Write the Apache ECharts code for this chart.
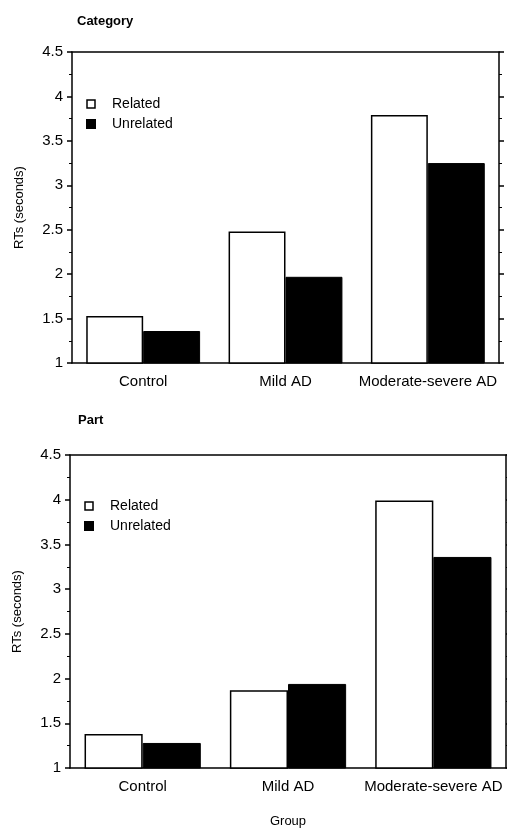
<!DOCTYPE html>
<html><head><meta charset="utf-8">
<script src="https://cdn.jsdelivr.net/npm/echarts@6/dist/echarts.min.js"></script>
<style>html,body{margin:0;padding:0;background:#fff}#c{width:507px;height:829px}</style>
</head><body><div id="c"></div>
<script>
const categories = ['Control', 'Mild AD', 'Moderate-severe AD'];
const seriesNames = ['Related', 'Unrelated'];
const relatedCategory = [1.53, 2.48, 3.79];
const unrelatedCategory = [1.36, 1.97, 3.25];
const relatedPart = [1.38, 1.87, 3.99];
const unrelatedPart = [1.28, 1.94, 3.36];
const panelTitles = ['Category', 'Part'];
const yAxisName = 'RTs (seconds)';
const xAxisName = 'Group';

const FONT = 'Liberation Sans, Arial, sans-serif';
const black = '#000';
const chart = echarts.init(document.getElementById('c'), null, {renderer: 'canvas'});

const grids = [
  {left: 72, right: 8, top: 52, height: 311},
  {left: 70, right: 1, top: 455, height: 313}
];

function xAxes(gi, withName) {
  return [
    {type: 'category', gridIndex: gi, data: categories, position: 'bottom',
     axisLine: {lineStyle: {color: black, width: 1.5}},
     axisTick: {alignWithLabel: true, length: 5, lineStyle: {color: black, width: 1.5}},
     axisLabel: {interval: 0, color: black, fontFamily: FONT, fontSize: 15, margin: 11},
     name: withName ? xAxisName : '', nameLocation: 'middle', nameGap: 47,
     nameTextStyle: {color: black, fontFamily: FONT, fontSize: 13}},
    {type: 'category', gridIndex: gi, data: categories, position: 'top',
     axisLine: {lineStyle: {color: black, width: 1.5}},
     axisTick: {alignWithLabel: true, length: 4, lineStyle: {color: black, width: 1.2}},
     axisLabel: {show: false}}
  ];
}
function yAxes(gi) {
  const base = {type: 'value', gridIndex: gi, min: 1, max: 4.5, interval: 0.5,
    splitLine: {show: false},
    minorTick: {show: true, splitNumber: 2, length: 3, lineStyle: {color: black, width: 1}},
    axisLine: {show: true, lineStyle: {color: black, width: 1.5}},
    axisTick: {show: true, length: 5, lineStyle: {color: black, width: 1.5}}};
  return [
    Object.assign({}, base, {position: 'left',
      axisLabel: {color: black, fontFamily: FONT, fontSize: 15, margin: 9},
      name: yAxisName, nameLocation: 'middle', nameRotate: 90, nameGap: 46,
      nameTextStyle: {color: black, fontFamily: FONT, fontSize: 13}}),
    Object.assign({}, base, {position: 'right', axisLabel: {show: false}})
  ];
}

const xAxis = [].concat(xAxes(0, false), xAxes(1, true));
const yAxis = [].concat(yAxes(0), yAxes(1));

const relStyle = {color: '#fff', borderColor: black, borderWidth: 1.5};
const unrelStyle = {color: black, borderColor: black, borderWidth: 1};

const series = [
  {name: seriesNames[0], type: 'bar', xAxisIndex: 0, yAxisIndex: 0, data: relatedCategory,
   itemStyle: relStyle, barGap: '0%', barCategoryGap: '20%'},
  {name: seriesNames[1], type: 'bar', xAxisIndex: 0, yAxisIndex: 0, data: unrelatedCategory,
   itemStyle: unrelStyle, barGap: '0%', barCategoryGap: '20%'},
  {name: seriesNames[0], type: 'bar', xAxisIndex: 2, yAxisIndex: 2, data: relatedPart,
   itemStyle: relStyle, barGap: '0%', barCategoryGap: '20%'},
  {name: seriesNames[1], type: 'bar', xAxisIndex: 2, yAxisIndex: 2, data: unrelatedPart,
   itemStyle: unrelStyle, barGap: '0%', barCategoryGap: '20%'}
];

function legend(left, top) {
  return {orient: 'vertical', left: left, top: top, padding: 0, itemWidth: 8, itemHeight: 8, itemGap: 6,
    icon: 'rect', selectedMode: false,
    textStyle: {color: black, fontFamily: FONT, fontSize: 14, padding: [0, 0, 0, 12]},
    data: [
      {name: seriesNames[0], itemStyle: {color: '#fff', borderColor: black, borderWidth: 1.5}},
      {name: seriesNames[1], itemStyle: {color: black}}
    ]};
}

chart.setOption({
  animation: false,
  backgroundColor: '#fff',
  title: [
    {text: panelTitles[0], left: 72, top: 10, textStyle: {fontFamily: FONT, fontSize: 13, fontWeight: 'bold', color: black}},
    {text: panelTitles[1], left: 73, top: 409, textStyle: {fontFamily: FONT, fontSize: 13, fontWeight: 'bold', color: black}}
  ],
  legend: [legend(86, 97), legend(84, 499)],
  grid: grids,
  xAxis: xAxis,
  yAxis: yAxis,
  series: series
});
</script></body></html>
